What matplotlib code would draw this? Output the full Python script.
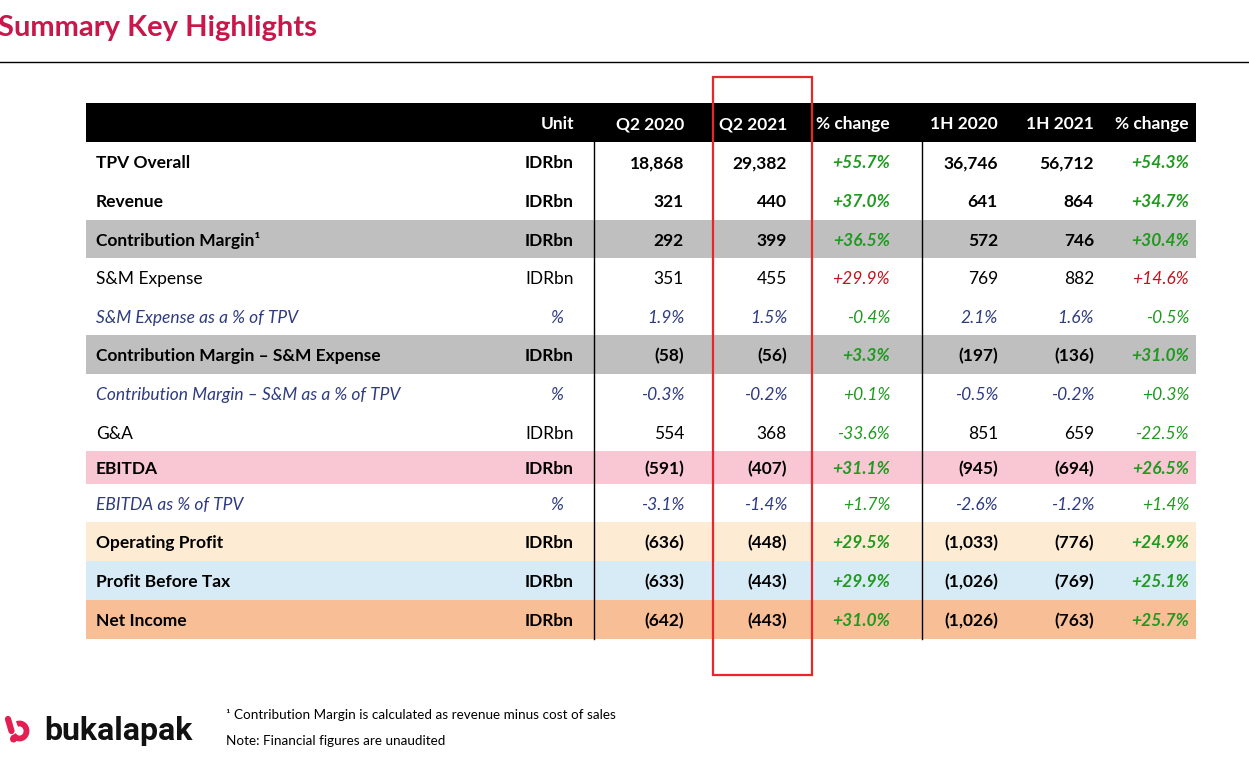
import matplotlib
matplotlib.use("Agg")
import matplotlib.pyplot as plt
from matplotlib.patches import Rectangle, Arc, Circle

plt.rcParams["font.family"] = ["Lato", "DejaVu Sans"]

# table data
headers = ["Unit", "Q2 2020", "Q2 2021", "% change", "1H 2020", "1H 2021", "% change"]
labels = ["TPV Overall", "Revenue", "Contribution Margin\u00b9", "S&M Expense",
          "S&M Expense as a % of TPV", "Contribution Margin \u2013 S&M Expense",
          "Contribution Margin \u2013 S&M as a % of TPV", "G&A", "EBITDA",
          "EBITDA as % of TPV", "Operating Profit", "Profit Before Tax", "Net Income"]
units = ["IDRbn", "IDRbn", "IDRbn", "IDRbn", "%", "IDRbn", "%", "IDRbn", "IDRbn",
         "%", "IDRbn", "IDRbn", "IDRbn"]
q2_2020 = ["18,868", "321", "292", "351", "1.9%", "(58)", "-0.3%", "554", "(591)",
           "-3.1%", "(636)", "(633)", "(642)"]
q2_2021 = ["29,382", "440", "399", "455", "1.5%", "(56)", "-0.2%", "368", "(407)",
           "-1.4%", "(448)", "(443)", "(443)"]
chg_q2 = ["+55.7%", "+37.0%", "+36.5%", "+29.9%", "-0.4%", "+3.3%", "+0.1%", "-33.6%",
          "+31.1%", "+1.7%", "+29.5%", "+29.9%", "+31.0%"]
h1_2020 = ["36,746", "641", "572", "769", "2.1%", "(197)", "-0.5%", "851", "(945)",
           "-2.6%", "(1,033)", "(1,026)", "(1,026)"]
h1_2021 = ["56,712", "864", "746", "882", "1.6%", "(136)", "-0.2%", "659", "(694)",
           "-1.2%", "(776)", "(769)", "(763)"]
chg_h1 = ["+54.3%", "+34.7%", "+30.4%", "+14.6%", "-0.5%", "+31.0%", "+0.3%", "-22.5%",
          "+26.5%", "+1.4%", "+24.9%", "+25.1%", "+25.7%"]
row_kind = ["bold", "bold", "bold", "plain", "pct", "bold", "pct", "plain", "bold",
            "pct", "bold", "bold", "bold"]
row_fill = [None, None, "#bfbfbf", None, None, "#bfbfbf", None, None, "#f9c6d4",
            None, "#fdebd4", "#d6ebf6", "#f8bf97"]
chg_bad = [False, False, False, True, False, False, False, False, False,
           False, False, False, False]

# layout (pixels)
W, H = 1249, 758
left, right = 86, 1196
head_top, head_bot = 103, 142
row_edges = [142, 181, 220, 258, 297, 335, 374, 413, 451, 484, 522, 561, 600, 639]
label_x = 96
unit_x = 574
col_right = [684, 787, 890, 998, 1094, 1189]
fs = 12.5
dy = 1.8  # nudge text down to sit centred like the original

GREEN = "#1f9a1f"
RED = "#c0141c"
NAVY = "#2e3b80"

fig = plt.figure(figsize=(W / 100, H / 100), dpi=100)
ax = fig.add_axes([0, 0, 1, 1])
ax.set_xlim(0, W)
ax.set_ylim(H, 0)
ax.axis("off")

# title and rule
ax.text(-2, 28, "Summary Key Highlights", color="#c8174a", fontsize=21,
        fontweight="bold", ha="left", va="center")
ax.plot([0, W], [62, 62], color="black", lw=1)

# header
ax.add_patch(Rectangle((left, head_top), right - left, head_bot - head_top,
                       facecolor="black", edgecolor="none"))
hy = (head_top + head_bot) / 2 + dy
ax.text(unit_x, hy, headers[0], color="white", fontsize=fs, fontweight="bold",
        ha="right", va="center")
for x, h in zip(col_right, headers[1:]):
    ax.text(x, hy, h, color="white", fontsize=fs, fontweight="bold",
            ha="right", va="center")

# rows
cols = [q2_2020, q2_2021, chg_q2, h1_2020, h1_2021, chg_h1]
for i in range(len(labels)):
    top, bot = row_edges[i], row_edges[i + 1]
    y = (top + bot) / 2 + dy
    if row_fill[i]:
        ax.add_patch(Rectangle((left, top), right - left, bot - top,
                               facecolor=row_fill[i], edgecolor="none", zorder=0))
    kind = row_kind[i]
    if kind == "bold":
        st = dict(fontweight="bold", fontstyle="normal", color="black")
    elif kind == "plain":
        st = dict(fontweight="normal", fontstyle="normal", color="black")
    else:
        st = dict(fontweight="normal", fontstyle="italic", color=NAVY)
    ax.text(label_x, y, labels[i], fontsize=fs, ha="left", va="center", **st)
    if units[i] == "%":
        ax.text(557, y, units[i], fontsize=fs, ha="center", va="center", **st)
    else:
        ax.text(unit_x, y, units[i], fontsize=fs, ha="right", va="center", **st)
    for j, col in enumerate(cols):
        if j in (2, 5):
            c = RED if chg_bad[i] else GREEN
            w = "bold" if kind == "bold" else "normal"
            ax.text(col_right[j], y, col[i], fontsize=fs, ha="right", va="center",
                    color=c, fontweight=w, fontstyle="italic")
        else:
            ax.text(col_right[j], y, col[i], fontsize=fs, ha="right", va="center", **st)

# separators
for x in (594, 922):
    ax.plot([x, x], [head_bot, row_edges[-1]], color="black", lw=1)

# highlight box around Q2 2021
ax.add_patch(Rectangle((713, 77), 99, 598, facecolor="none",
                       edgecolor="#e8262b", lw=1.6, zorder=5))

# footnotes
ax.text(226, 715, "\u00b9 Contribution Margin is calculated as revenue minus cost of sales",
        fontsize=9.7, ha="left", va="center", color="black")
ax.text(226, 741, "Note: Financial figures are unaudited",
        fontsize=9.7, ha="left", va="center", color="black")

# logo
PINK = "#e31e52"
ax.plot([8, 11.5], [719, 731], color=PINK, lw=4.5, solid_capstyle="round")
ax.add_patch(Circle((13.5, 739), 2.8, color=PINK))
ax.add_patch(Arc((19.5, 731), 14, 15, theta1=-110, theta2=150, color=PINK, lw=4.2))
ax.text(44, 731, "bukalapak", fontsize=23, fontweight="bold", ha="left",
        va="center", color="#111111", family=["Roboto", "DejaVu Sans"])

fig.savefig("out.png", dpi=100)
